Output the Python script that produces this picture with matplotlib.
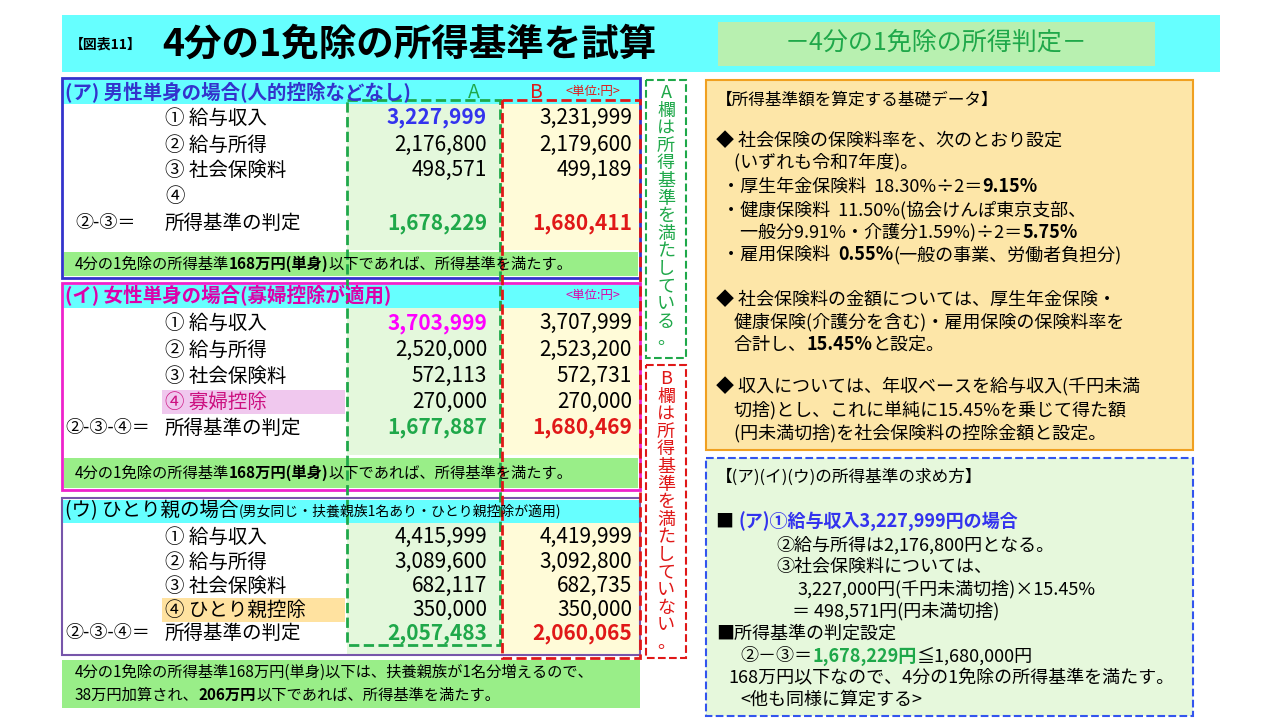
import matplotlib
matplotlib.use("Agg")
import matplotlib.pyplot as plt
from matplotlib.patches import Rectangle

plt.rcParams["font.family"] = ["Noto Sans CJK JP", "DejaVu Sans"]

TITLE = "4分の1免除の所得基準を試算"
SUBTITLE = "－4分の1免除の所得判定－"

# section data: labels, column A, column B
A_LABELS = ["① 給与収入", "② 給与所得", "③ 社会保険料", "④", "所得基準の判定"]
A_COL_A = ["3,227,999", "2,176,800", "498,571", "", "1,678,229"]
A_COL_B = ["3,231,999", "2,179,600", "499,189", "", "1,680,411"]

B_LABELS = ["① 給与収入", "② 給与所得", "③ 社会保険料", "④ 寡婦控除", "所得基準の判定"]
B_COL_A = ["3,703,999", "2,520,000", "572,113", "270,000", "1,677,887"]
B_COL_B = ["3,707,999", "2,523,200", "572,731", "270,000", "1,680,469"]

C_LABELS = ["① 給与収入", "② 給与所得", "③ 社会保険料", "④ ひとり親控除", "所得基準の判定"]
C_COL_A = ["4,415,999", "3,089,600", "682,117", "350,000", "2,057,483"]
C_COL_B = ["4,419,999", "3,092,800", "682,735", "350,000", "2,060,065"]

GREEN = "#1fa84a"
RED = "#e01818"
CYAN = "#66ffff"
LGREEN = "#99ee88"

fig = plt.figure(figsize=(12.8, 7.2), dpi=100)
ax = fig.add_axes([0, 0, 1, 1])
ax.set_xlim(0, 1280)
ax.set_ylim(720, 0)
ax.axis("off")
renderer = fig.canvas.get_renderer()


def rect(x0, y0, x1, y1, fc="none", ec="none", lw=1.5, ls="-", z=1):
    ax.add_patch(Rectangle((x0, y0), x1 - x0, y1 - y0, facecolor=fc,
                           edgecolor=ec, lw=lw, ls=ls, zorder=z))


def segs(x, y, parts, size=13):
    """Draw text pieces one after another: (text, color, bold[, size])."""
    for p in parts:
        txt_, col, bold = p[:3]
        sz = p[3] if len(p) > 3 else size
        t = ax.text(x, y, txt_, fontsize=sz, color=col, va="center",
                    fontweight="bold" if bold else "normal", zorder=5)
        x += t.get_window_extent(renderer).width


def txt(x, y, s, size=13, color="black", bold=False, ha="left"):
    ax.text(x, y, s, fontsize=size, color=color, ha=ha, va="center",
            fontweight="bold" if bold else "normal", zorder=5)


# title band
rect(62, 15, 1220, 72, fc=CYAN)
txt(70, 45, "【図表11】", size=10, bold=True)
txt(162, 44, TITLE, size=27, bold=True)
rect(718, 22, 1155, 66, fc="#b8f0b0")
txt(936, 44, SUBTITLE, size=18, color=GREEN, ha="center")

# column backgrounds
for y0, y1 in [(104, 250), (308, 455), (523, 655)]:
    rect(347, y0, 500, y1, fc="#e4f8dc", z=0)
    rect(500, y0, 640, y1, fc="#fffbd8", z=0)


def section(rows_y, labels, col_a, col_b, first_color, formula, highlight=None):
    for i, (lab, va, vb) in enumerate(zip(labels, col_a, col_b)):
        y = rows_y[i]
        if i == 3 and highlight:
            rect(162, y - 12, 345, y + 12, fc=highlight, z=2)
        txt(165, y, lab, size=14,
            color="#cc1080" if (i == 3 and highlight == "#f0c8ee") else "black")
        ca, cb, bold = "black", "black", False
        if i == 0:
            ca = first_color
            bold = first_color != "black"
        if i == 4:
            ca, cb, bold = GREEN, RED, True
        txt(487, y, va, size=15, color=ca, bold=bold, ha="right")
        txt(632, y, vb, size=15, color=cb, bold=(i == 4), ha="right")
    txt(75 if formula == "②-③＝" else 65, rows_y[4], formula, size=13)


FOOT = [("4分の1免除の所得基準", "black", False), ("168万円(単身)", "black", True),
        ("以下であれば、所得基準を満たす。", "black", False)]

# section A
rect(62, 80, 640, 104, fc=CYAN, z=0)
rect(62, 78, 640, 278, ec="#3333cc", lw=2, z=3)
txt(65, 92, "(ア) 男性単身の場合(人的控除などなし)", size=14, color="#3333cc", bold=True)
txt(468, 92, "A", size=14, color=GREEN)
txt(530, 92, "B", size=14, color=RED)
txt(565, 92, "<単位:円>", size=9, color=RED)
section([118, 145, 170, 196, 223], A_LABELS, A_COL_A, A_COL_B, "#3333ee", "②-③＝")
rect(64, 252, 638, 276, fc=LGREEN, z=0)
segs(75, 264, FOOT, size=11)

# section B
rect(62, 285, 640, 308, fc=CYAN, z=0)
rect(62, 283, 640, 490, ec="#ee22cc", lw=2, z=3)
txt(65, 296, "(イ) 女性単身の場合(寡婦控除が適用)", size=14, color="#dd00aa", bold=True)
txt(565, 296, "<単位:円>", size=9, color="#dd00aa")
section([323, 350, 376, 402, 428], B_LABELS, B_COL_A, B_COL_B, "#ff00ff",
        "②-③-④＝", highlight="#f0c8ee")
rect(64, 458, 638, 488, fc=LGREEN, z=0)
segs(75, 473, FOOT, size=11)

# section C
rect(62, 500, 640, 523, fc=CYAN, z=0)
rect(62, 498, 640, 655, ec="#7755aa", lw=1.5, z=3)
segs(65, 511, [("(ウ) ひとり親の場合", "black", False, 14),
               ("(男女同じ・扶養親族1名あり・ひとり親控除が適用)", "black", False, 10)])
section([537, 562, 586, 610, 633], C_LABELS, C_COL_A, C_COL_B, "black",
        "②-③-④＝", highlight="#ffe2a0")
rect(62, 660, 640, 708, fc=LGREEN, z=0)
txt(75, 672, "4分の1免除の所得基準168万円(単身)以下は、扶養親族が1名分増えるので、", size=11)
segs(75, 695, [("38万円加算され、", "black", False), ("206万円", "black", True),
               ("以下であれば、所得基準を満たす。", "black", False)], size=11)

# dashed column frames
rect(347, 100, 500, 645, ec=GREEN, lw=2, ls="--", z=4)
rect(502, 100, 640, 658, ec=RED, lw=2, ls="--", z=4)

# vertical notes
rect(646, 80, 686, 358, ec=GREEN, lw=1.5, ls="--", z=4)
for i, ch in enumerate("A欄は所得基準を満たしている。"):
    txt(666, 93 + i * 17.6, ch, size=13, color=GREEN, ha="center")
rect(646, 365, 686, 658, ec=RED, lw=1.5, ls="--", z=4)
for i, ch in enumerate("B欄は所得基準を満たしていない。"):
    txt(666, 379 + i * 17.6, ch, size=13, color=RED, ha="center")

# right top box
rect(706, 80, 1193, 450, fc="#fde6a8", ec="#f0a020", lw=1.5, z=0)
K = "black"
txt(716, 100, "【所得基準額を算定する基礎データ】", size=12)
txt(716, 141, "◆ 社会保険の保険料率を、次のとおり設定", size=13)
txt(716, 162, "　(いずれも令和7年度)。", size=13)
segs(722, 187, [("・厚生年金保険料  18.30%÷2＝", K, False), ("9.15%", K, True)])
txt(722, 210, "・健康保険料  11.50%(協会けんぽ東京支部、", size=13)
segs(722, 232, [("　一般分9.91%・介護分1.59%)÷2＝", K, False), ("5.75%", K, True)])
segs(722, 255, [("・雇用保険料  ", K, False), ("0.55%", K, True), ("(一般の事業、労働者負担分)", K, False)])
txt(716, 300, "◆ 社会保険料の金額については、厚生年金保険・", size=13)
txt(716, 322, "　健康保険(介護分を含む)・雇用保険の保険料率を", size=13)
segs(716, 345, [("　合計し、", K, False), ("15.45%", K, True), ("と設定。", K, False)])
txt(716, 387, "◆ 収入については、年収ベースを給与収入(千円未満", size=13)
txt(716, 410, "　切捨)とし、これに単純に15.45%を乗じて得た額", size=13)
txt(716, 433, "　(円未満切捨)を社会保険料の控除金額と設定。", size=13)

# right bottom box
rect(706, 458, 1193, 716, fc="#e6f8dc", ec="#3355ee", lw=1.5, ls="--", z=0)
txt(716, 477, "【(ア)(イ)(ウ)の所得基準の求め方】", size=12)
segs(716, 522, [("■ ", K, False), ("(ア)①給与収入3,227,999円の場合", "#3333ee", True)])
txt(776, 545, "②給与所得は2,176,800円となる。", size=13)
txt(776, 567, "③社会保険料については、", size=13)
txt(798, 589, "3,227,000円(千円未満切捨)×15.45%", size=13)
txt(792, 611, "＝ 498,571円(円未満切捨)", size=13)
txt(716, 634, "■所得基準の判定設定", size=13)
segs(740, 656, [("②－③＝", K, False), ("1,678,229円", GREEN, True), ("≦1,680,000円", K, False)])
txt(728, 678, "168万円以下なので、4分の1免除の所得基準を満たす。", size=13)
txt(740, 700, "<他も同様に算定する>", size=13)

fig.savefig("out.png", dpi=100)
